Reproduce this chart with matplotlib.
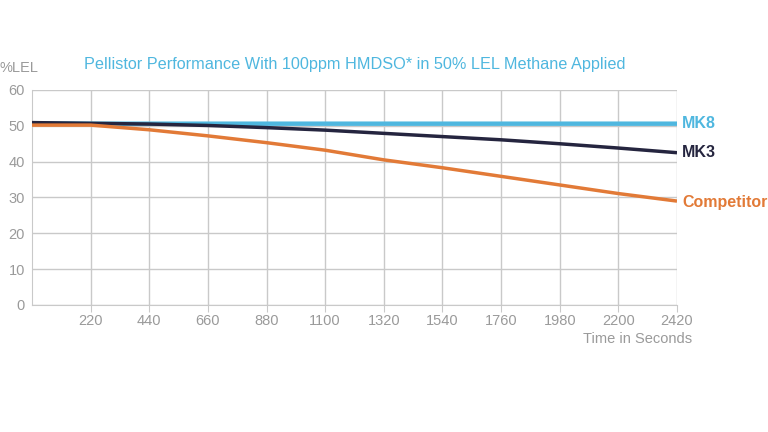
import numpy as np
import matplotlib
import matplotlib.pyplot as plt

matplotlib.use("Agg")
plt.rcParams['font.family'] = ['Liberation Sans', 'DejaVu Sans']

# Values
time_s = [0, 220, 440, 660, 880, 1100, 1320, 1540, 1760, 1980, 2200, 2420]
mk8 = [50.7, 50.6, 50.6, 50.6, 50.6, 50.6, 50.6, 50.6, 50.6, 50.6, 50.6, 50.6]
mk3 = [50.9, 50.7, 50.5, 50.1, 49.5, 48.8, 47.9, 47.0, 46.1, 45.0, 43.8, 42.5]
competitor = [50.2, 50.2, 48.9, 47.2, 45.3, 43.2, 40.5, 38.3, 35.9, 33.5, 31.1, 29.0]
x_ticks = [220, 440, 660, 880, 1100, 1320, 1540, 1760, 1980, 2200, 2420]
y_ticks = [0, 10, 20, 30, 40, 50, 60]

c_mk8 = '#4fb7df'
c_mk3 = '#25253f'
c_comp = '#e27a37'
c_grid = '#c9c9c9'
c_text = '#9a9a9a'

fig = plt.figure(figsize=(7.68, 4.32), dpi=100)
ax = fig.add_axes([32/768, 1-305/432, 645/768, 215/432])

ax.plot(time_s, mk8, color=c_mk8, lw=3.2, solid_capstyle='butt', zorder=3)
ax.plot(time_s, mk3, color=c_mk3, lw=2.5, solid_capstyle='butt', zorder=4)
ax.plot(time_s, competitor, color=c_comp, lw=2.5, solid_capstyle='butt', zorder=4)

ax.set_xlim(0, 2420)
ax.set_ylim(0, 60)
ax.set_xticks(x_ticks)
ax.set_yticks(y_ticks)
ax.grid(True, color=c_grid, lw=1)
ax.set_axisbelow(True)
for s in ['top', 'right']:
    ax.spines[s].set_visible(False)
for s in ['left', 'bottom']:
    ax.spines[s].set_color(c_grid)
ax.tick_params(axis='x', colors=c_text, labelsize=10.5, length=5, color=c_grid, pad=1.5)
ax.tick_params(axis='y', colors=c_text, labelsize=10.5, length=0, pad=5)

# end labels
ax.text(2440, mk8[-1], 'MK8', color=c_mk8, fontsize=11.5, fontweight='bold', va='center')
ax.text(2440, mk3[-1], 'MK3', color=c_mk3, fontsize=11.5, fontweight='bold', va='center')
ax.text(2440, competitor[-1] - 0.4, 'Competitor', color=c_comp, fontsize=11.5, fontweight='bold', va='center')

fig.text(355/768, 1-64/432, 'Pellistor Performance With 100ppm HMDSO* in 50% LEL Methane Applied',
         color=c_mk8, fontsize=11.7, ha='center', va='center')
fig.text(0, 1-68/432, '%LEL', color=c_text, fontsize=10.5, ha='left', va='center')
fig.text(692/768, 1-339/432, 'Time in Seconds', color=c_text, fontsize=10.5, ha='right', va='center')

plt.savefig('out.png', dpi=100)
